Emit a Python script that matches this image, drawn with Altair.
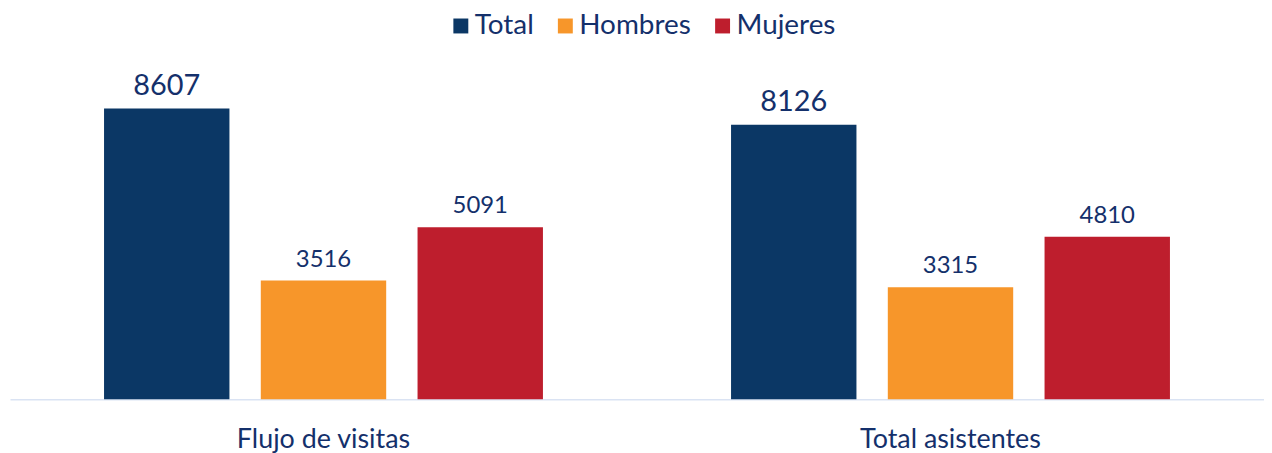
import altair as alt
import pandas as pd

categories = ["Flujo de visitas", "Total asistentes"]
series = ["Total", "Hombres", "Mujeres"]
total = [8607, 8126]
hombres = [3516, 3315]
mujeres = [5091, 4810]
colors = ["#0b3765", "#f7962a", "#be1e2d"]
navy = "#14306b"

rows = []
for i, c in enumerate(categories):
    for s, vals in zip(series, [total, hombres, mujeres]):
        rows.append({"cat": c, "serie": s, "value": vals[i]})
df = pd.DataFrame(rows)

x = alt.X("cat:N", sort=categories,
          scale=alt.Scale(paddingInner=0.3, paddingOuter=0.15),
          axis=alt.Axis(title=None, labelAngle=0, ticks=False, grid=False,
                        domainColor="#dae3f3", domainWidth=1.5,
                        labelFontSize=27, labelColor=navy, labelPadding=28,
                        labelLimit=0, labelFont="Lato"))
xo = alt.XOffset("serie:N", sort=series, scale=alt.Scale(paddingInner=0.2))
y = alt.Y("value:Q", scale=alt.Scale(domain=[0, 11553]), axis=None)

base = alt.Chart(df).encode(x=x, xOffset=xo, y=y)

bars = base.mark_bar().encode(
    color=alt.Color("serie:N", sort=series,
                    scale=alt.Scale(domain=series, range=colors),
                    legend=alt.Legend(title=None, orient="none", direction="horizontal",
                                      legendX=439, legendY=3, padding=0,
                                      symbolType="square", symbolSize=225,
                                      symbolStrokeWidth=0, labelFontSize=28,
                                      labelColor=navy, labelFont="Lato",
                                      labelOffset=0, columnPadding=17))
)

texts = base.mark_text(baseline="alphabetic", dy=-14, color=navy, font="Lato").encode(
    text=alt.Text("value:Q", format="d"),
    size=alt.condition(alt.datum.serie == "Total", alt.value(29), alt.value(24)),
)

chart = alt.layer(bars, texts).properties(
    width=1260, height=392,
    padding={"left": 2, "top": 0, "right": 0, "bottom": 0},
).configure(font="Lato").configure_view(strokeWidth=0, stroke=None)

chart.save("out.html", embed_options={"renderer": "svg", "actions": False})
